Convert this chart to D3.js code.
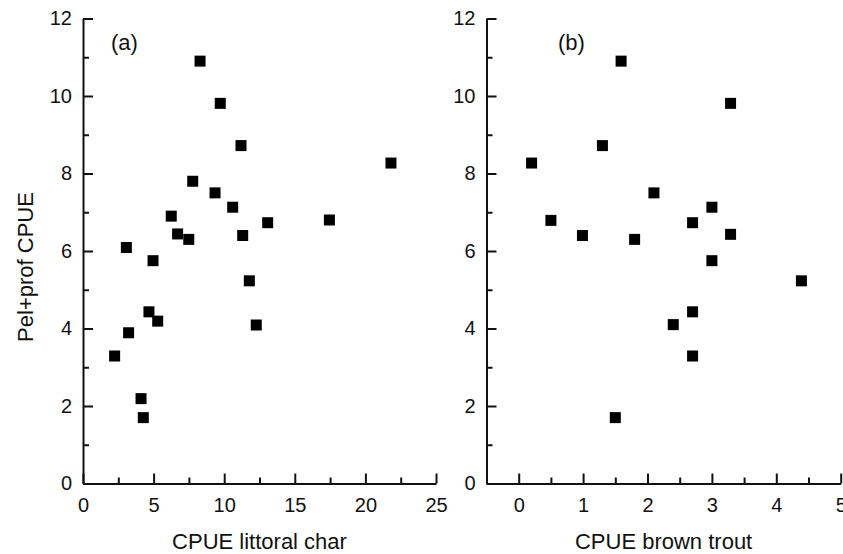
<!DOCTYPE html>
<html>
<head>
<meta charset="utf-8">
<script src="https://cdn.jsdelivr.net/npm/d3@7"></script>
<style>
  html, body { margin: 0; padding: 0; background: #fff; }
  svg { display: block; }
  text { font-family: "Liberation Sans", Arial, sans-serif; fill: #111; }
</style>
</head>
<body>
<svg id="chart" width="843" height="554"></svg>
<script>
// ---- data ----
const charX = [8.29, 9.72, 11.19, 21.81, 7.77, 9.35, 10.6, 6.25, 6.7, 7.49, 11.31, 13.08, 17.45, 3.07, 4.96, 11.78, 4.67, 5.29, 12.27, 3.23, 2.24, 4.11, 4.27];
const charY = [10.9, 9.81, 8.72, 8.27, 7.8, 7.5, 7.13, 6.9, 6.44, 6.3, 6.4, 6.73, 6.8, 6.09, 5.75, 5.23, 4.43, 4.19, 4.09, 3.89, 3.29, 2.19, 1.7];
const troutX = [0.2, 1.59, 3.29, 1.3, 2.1, 3.0, 0.5, 2.7, 0.99, 1.8, 3.29, 3.0, 4.39, 2.7, 2.4, 2.7, 1.5];
const troutY = [8.27, 10.9, 9.81, 8.72, 7.5, 7.13, 6.79, 6.73, 6.4, 6.3, 6.43, 5.75, 5.23, 4.43, 4.1, 3.29, 1.7];

const yMajor = [0, 2, 4, 6, 8, 10, 12];
const yMinor = [1, 3, 5, 7, 9, 11];
const charMajor = [0, 5, 10, 15, 20, 25];
const charMinor = [2.5, 7.5, 12.5, 17.5, 22.5];
const troutMajor = [0, 1, 2, 3, 4, 5];
const troutMinor = [0.5, 1.5, 2.5, 3.5, 4.5];

const yTitle = "Pel+prof CPUE";
const panels = [
  { label: "(a)", title: "CPUE littoral char", xs: charX, ys: charY, domain: [0, 25], range: [83, 436], major: charMajor, minor: charMinor, labelX: 111 },
  { label: "(b)", title: "CPUE brown trout", xs: troutX, ys: troutY, domain: [-0.5, 5], range: [486.5, 840.7], major: troutMajor, minor: troutMinor, labelX: 558 }
];

const svg = d3.select("#chart");
const y = d3.scaleLinear().domain([0, 12]).range([483.5, 18.5]);
const SQ = 11;

function styleAxis(g) {
  g.selectAll("path.domain").attr("stroke", "#111").attr("stroke-width", 2);
  g.selectAll(".tick line").attr("stroke", "#111").attr("stroke-width", 2);
  g.selectAll(".tick text").style("font-size", "20px").style("font-family", "'Liberation Sans', Arial, sans-serif").attr("fill", "#111");
}

panels.forEach(p => {
  const x = d3.scaleLinear().domain(p.domain).range(p.range);
  const x0 = p.range[0];
  const g = svg.append("g");

  // minor ticks
  g.append("g").attr("transform", `translate(0,${y(0)})`)
    .call(d3.axisBottom(x).tickValues(p.minor).tickSize(-6).tickSizeOuter(0).tickFormat(""))
    .call(styleAxis).select("path.domain").remove();
  g.append("g").attr("transform", `translate(${x0},0)`)
    .call(d3.axisLeft(y).tickValues(yMinor).tickSize(-6).tickSizeOuter(0).tickFormat(""))
    .call(styleAxis).select("path.domain").remove();

  // major axes
  g.append("g").attr("transform", `translate(0,${y(0)})`)
    .call(d3.axisBottom(x).tickValues(p.major).tickSize(-10).tickSizeOuter(0).tickPadding(14).tickFormat(d3.format("d")))
    .call(styleAxis);
  g.append("g").attr("transform", `translate(${x0},0)`)
    .call(d3.axisLeft(y).tickValues(yMajor).tickSize(-10).tickSizeOuter(0).tickPadding(11).tickFormat(d3.format("d")))
    .call(styleAxis);

  // points
  g.append("g").selectAll("rect")
    .data(p.xs.map((v, i) => [v, p.ys[i]]))
    .join("rect")
    .attr("x", d => x(d[0]) - SQ / 2)
    .attr("y", d => y(d[1]) - SQ / 2)
    .attr("width", SQ).attr("height", SQ)
    .attr("fill", "#000");

  // panel label
  g.append("text").attr("x", p.labelX).attr("y", 50)
    .style("font-size", "22px").text(p.label);

  // x title
  g.append("text").attr("x", (p.range[0] + p.range[1]) / 2).attr("y", 549)
    .attr("text-anchor", "middle").style("font-size", "22px").text(p.title);
});

// y title
svg.append("text")
  .attr("transform", "translate(33,267) rotate(-90)")
  .attr("text-anchor", "middle").style("font-size", "22px").text(yTitle);
</script>
</body>
</html>
